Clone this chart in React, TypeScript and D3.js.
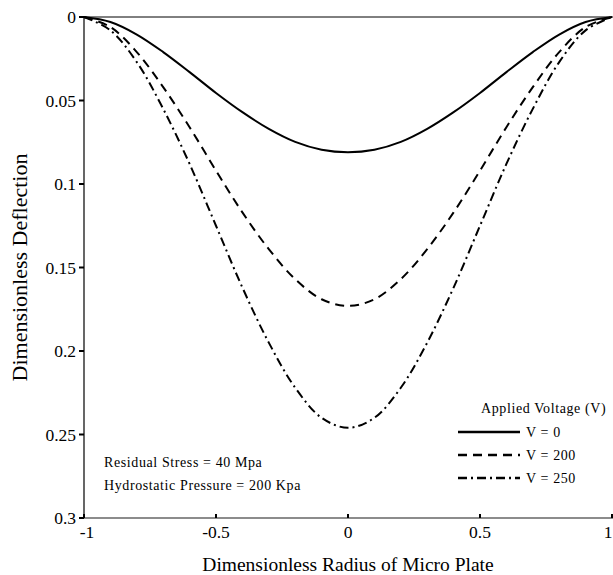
import React from "react";
import * as d3 from "d3";

const radius = [-1, -0.9, -0.8, -0.7, -0.6, -0.5, -0.4, -0.3, -0.2, -0.1, 0, 0.1, 0.2, 0.3, 0.4, 0.5, 0.6, 0.7, 0.8, 0.9, 1];
const v0 = [0, 0.003, 0.0105, 0.021, 0.033, 0.0455, 0.057, 0.067, 0.0748, 0.0795, 0.081, 0.0795, 0.0748, 0.067, 0.057, 0.0455, 0.033, 0.021, 0.0105, 0.003, 0];
const v200 = [0, 0.006, 0.021, 0.042, 0.066, 0.092, 0.117, 0.139, 0.157, 0.169, 0.173, 0.169, 0.157, 0.139, 0.117, 0.092, 0.066, 0.042, 0.021, 0.006, 0];
const v250 = [0, 0.008, 0.027, 0.055, 0.088, 0.125, 0.162, 0.195, 0.222, 0.24, 0.246, 0.24, 0.222, 0.195, 0.162, 0.125, 0.088, 0.055, 0.027, 0.008, 0];
const seriesNames = ["V = 0", "V = 200", "V = 250"];
const dashes = ["", "9,6", "9,4,2,4"];
const xTicks = [-1, -0.5, 0, 0.5, 1];
const yTicks = [0, 0.05, 0.1, 0.15, 0.2, 0.25, 0.3];

const W = 613;
const H = 575;
const m = { left: 84, right: 1, top: 17, bottom: 57 };
const serif = { fontFamily: "'Liberation Serif', 'DejaVu Serif', serif" };
const small = { ...serif, letterSpacing: "0.6px" };

export default function App() {
  const x = d3.scaleLinear().domain([-1, 1]).range([m.left, W - m.right]);
  const y = d3.scaleLinear().domain([0, 0.3]).range([m.top, H - m.bottom]);
  const line = d3
    .line<number>()
    .x((_, i) => x(radius[i]))
    .y((d) => y(d))
    .curve(d3.curveCatmullRom);
  const series = [v0, v200, v250];

  return (
    <div style={{ position: "absolute", left: 0, top: 0 }}>
      <svg width={W} height={H} style={{ display: "block", background: "#fff" }}>
        {/* frame */}
        <line x1={x(-1)} x2={W} y1={y(0)} y2={y(0)} stroke="#000" strokeWidth={1} />
        <line x1={x(-1)} x2={x(-1)} y1={y(0)} y2={y(0.3)} stroke="#000" strokeWidth={1.2} />
        <line x1={x(-1)} x2={W} y1={y(0.3)} y2={y(0.3)} stroke="#666" strokeWidth={1.5} />

        {yTicks.map((t) => (
          <g key={t}>
            <line x1={x(-1) - 5} x2={x(-1)} y1={y(t)} y2={y(t)} stroke="#000" strokeWidth={2} />
            <text x={x(-1) - 8} y={y(t)} dy="0.35em" textAnchor="end" fontSize={17.5} style={serif}>
              {t}
            </text>
          </g>
        ))}
        {xTicks.map((t) => (
          <g key={t}>
            <line x1={x(t)} x2={x(t)} y1={y(0.3)} y2={y(0.3) - 4} stroke="#000" strokeWidth={2} />
            <text
              x={t === -1 ? x(t) + 3 : t === 1 ? x(t) - 4 : x(t)}
              y={y(0.3) + 20}
              textAnchor="middle"
              fontSize={17.5}
              style={serif}
            >
              {t}
            </text>
          </g>
        ))}

        {series.map((s, i) => (
          <path key={i} d={line(s) ?? ""} fill="none" stroke="#000" strokeWidth={2} strokeDasharray={dashes[i]} />
        ))}

        {/* legend */}
        <text x={481} y={413} fontSize={14} style={small}>Applied Voltage (V)</text>
        {seriesNames.map((n, i) => (
          <g key={n}>
            <line x1={458} x2={520} y1={432 + i * 23} y2={432 + i * 23} stroke="#000" strokeWidth={2.5} strokeDasharray={dashes[i]} />
            <text x={526} y={432 + i * 23} dy="0.35em" fontSize={14} style={small}>
              {n}
            </text>
          </g>
        ))}

        <text x={104} y={467} fontSize={14} style={small}>Residual Stress = 40 Mpa</text>
        <text x={104} y={490} fontSize={14} style={small}>Hydrostatic Pressure = 200 Kpa</text>

        <text x={348} y={571} textAnchor="middle" fontSize={19.5} style={serif}>
          Dimensionless Radius of Micro Plate
        </text>
        <text
          transform={`translate(27, ${(y(0) + y(0.3)) / 2}) rotate(-90)`}
          textAnchor="middle"
          fontSize={22}
          style={serif}
        >
          Dimensionless Deflection
        </text>
      </svg>
    </div>
  );
}
